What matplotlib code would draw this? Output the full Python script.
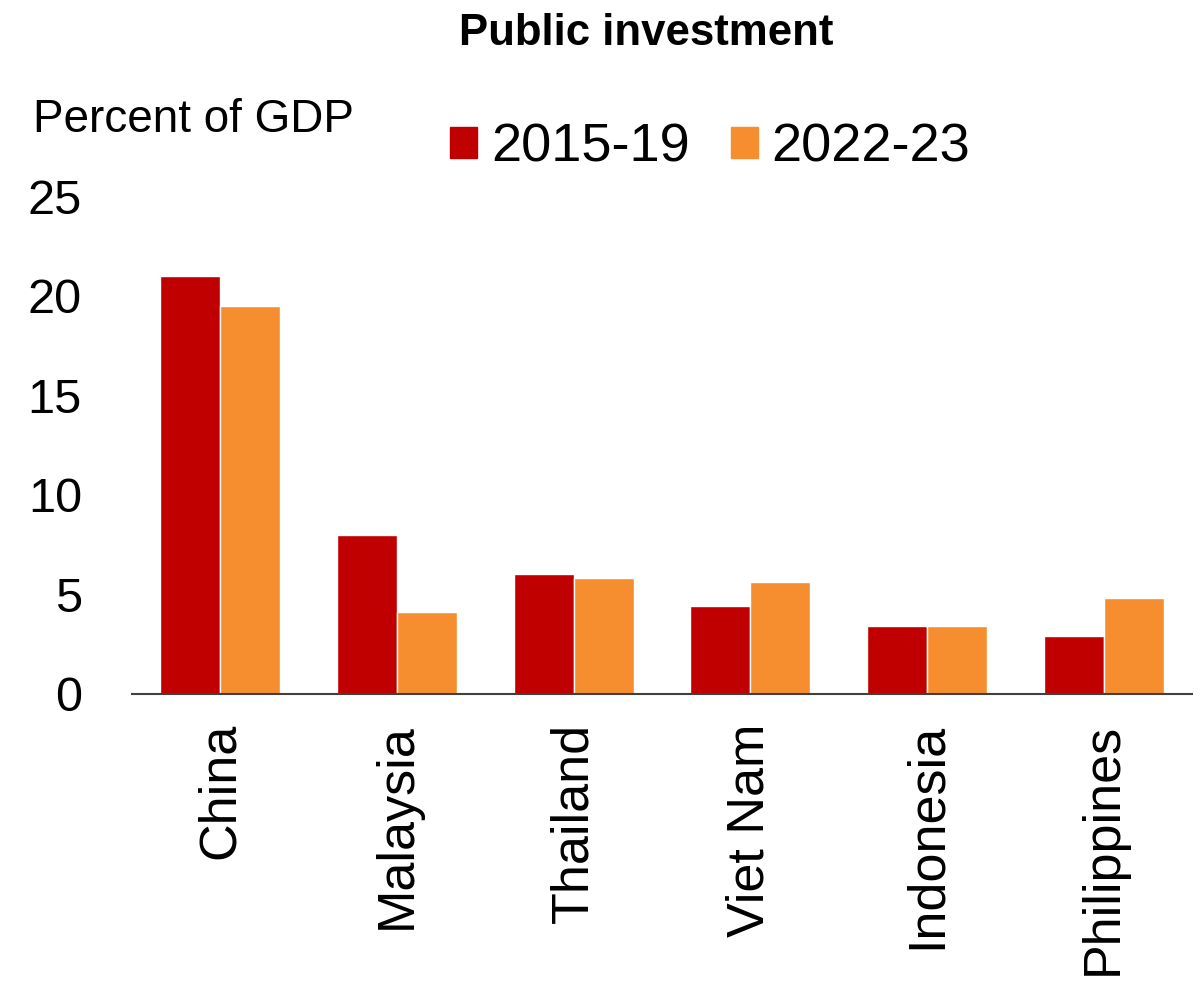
import matplotlib.pyplot as plt
from matplotlib.patches import Patch
import numpy as np

countries = ['China', 'Malaysia', 'Thailand', 'Viet Nam', 'Indonesia', 'Philippines']
period_a = [21.0, 8.0, 6.0, 4.4, 3.4, 2.9]   # 2015-19
period_b = [19.5, 4.1, 5.8, 5.6, 3.4, 4.8]   # 2022-23
labels = ['2015-19', '2022-23']
colors = ['#C00000', '#F68E2F']

plt.rcParams['font.family'] = ['Liberation Sans', 'DejaVu Sans']

fig = plt.figure(figsize=(12.04, 9.83), dpi=100)
ax = fig.add_axes([0.1096, 0.294, 0.8804, 0.5066])

x = np.arange(len(countries))
w = 0.34
ax.bar(x - w / 2, period_a, w, color=colors[0], edgecolor='white', linewidth=1)
ax.bar(x + w / 2, period_b, w, color=colors[1], edgecolor='white', linewidth=1)

ax.set_xlim(-0.5, len(countries) - 0.5)
ax.set_ylim(0, 25)
ax.set_yticks([0, 5, 10, 15, 20, 25])
ax.set_xticks(x)
ax.set_xticklabels(countries, rotation=90, va='top', ha='center')
ax.tick_params(axis='x', length=0, pad=21, labelsize=37.5)
ax.tick_params(axis='y', length=0, pad=36, labelsize=35)

for s in ['top', 'right', 'left']:
    ax.spines[s].set_visible(False)
ax.spines['bottom'].set_color('#404040')
ax.spines['bottom'].set_linewidth(1.5)

fig.text(0.537, 0.966, 'Public investment', ha='center', va='center',
         fontsize=31.5, fontweight='bold')
fig.text(0.027, 0.878, 'Percent of GDP', ha='left', va='center',
         fontsize=33)

handles = [Patch(color=c, label=l) for c, l in zip(colors, labels)]
fig.legend(handles=handles, ncol=2, loc='center left',
           bbox_to_anchor=(0.374, 0.850), frameon=False, fontsize=39,
           handlelength=0.5, handleheight=0.5, handletextpad=0.25,
           columnspacing=0.76, borderpad=0, borderaxespad=0)

fig.savefig('out.png', dpi=100)
